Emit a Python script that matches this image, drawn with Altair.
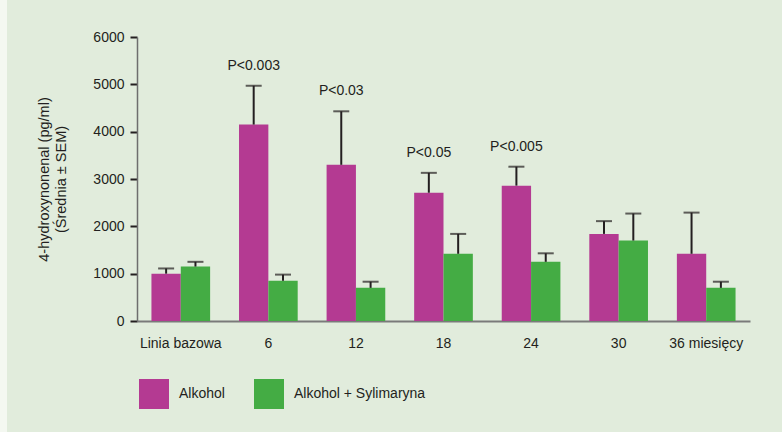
import altair as alt
import pandas as pd

# Time points (months of follow-up)
timepoints = ["Linia bazowa", "6", "12", "18", "24", "30", "36 miesięcy"]
groups = ["Alkohol", "Alkohol + Sylimaryna"]

# Mean 4-HNE (pg/ml) and SEM per group
alkohol_mean = [1000, 4150, 3300, 2710, 2860, 1840, 1420]
alkohol_sem = [110, 820, 1130, 420, 400, 270, 870]
sylimaryna_mean = [1150, 850, 700, 1420, 1250, 1700, 700]
sylimaryna_sem = [100, 130, 130, 420, 180, 570, 130]

# Significance labels (Alkohol vs. Alkohol + Sylimaryna)
p_labels = ["", "P<0.003", "P<0.03", "P<0.05", "P<0.005", "", ""]

rows = []
for i, t in enumerate(timepoints):
    rows.append({"czas": t, "grupa": groups[0], "srednia": alkohol_mean[i],
                 "sem": alkohol_sem[i], "p": p_labels[i]})
    rows.append({"czas": t, "grupa": groups[1], "srednia": sylimaryna_mean[i],
                 "sem": sylimaryna_sem[i], "p": ""})
df = pd.DataFrame(rows)
df["gora"] = df["srednia"] + df["sem"]

FONT = "Liberation Sans"
TEXT = "#231f20"
colors = ["#b43a92", "#44ac44"]

x = alt.X("czas:N", sort=timepoints, title=None,
          scale=alt.Scale(paddingInner=0.33, paddingOuter=0.165),
          axis=alt.Axis(labelAngle=0, ticks=False, labelPadding=15,
                        domainColor="#7a7a7a", domainWidth=2,
                        labelFontSize=14, labelColor=TEXT, labelFont=FONT))
xo = alt.XOffset("grupa:N", sort=groups,
                 scale=alt.Scale(paddingInner=0, paddingOuter=0))
y_scale = alt.Scale(domain=[0, 6000], nice=False)

bars = alt.Chart(df).mark_bar().encode(
    x=x,
    xOffset=xo,
    y=alt.Y("srednia:Q", scale=y_scale,
            title=["4-hydroxynonenal (pg/ml)", "(Średnia ± SEM)"],
            axis=alt.Axis(values=[0, 1000, 2000, 3000, 4000, 5000, 6000],
                          format="d",
                          grid=False, tickSize=7, tickWidth=2, tickColor=TEXT,
                          domainColor="#6e6e6e", domainWidth=1.5,
                          labelPadding=6, labelFontSize=14, labelColor=TEXT,
                          labelFont=FONT, titleFont=FONT, titleFontSize=14.5,
                          titleFontWeight="normal", titleColor=TEXT,
                          titlePadding=24, titleLineHeight=17)),
    color=alt.Color("grupa:N", sort=groups,
                    scale=alt.Scale(domain=groups, range=colors),
                    legend=alt.Legend(title=None, orient="none", direction="horizontal",
                                      legendX=2, legendY=342,
                                      symbolType="square", symbolSize=900,
                                      symbolStrokeWidth=0, symbolOpacity=1,
                                      labelFontSize=14, labelFont=FONT,
                                      labelColor=TEXT, labelOffset=10,
                                      columnPadding=29)),
)

whisker = alt.Chart(df).mark_rule(color=TEXT, strokeWidth=2).encode(
    x=x, xOffset=xo,
    y=alt.Y("srednia:Q", scale=y_scale),
    y2="gora:Q",
)

caps = alt.Chart(df).mark_tick(color=TEXT, thickness=2, size=16,
                               orient="horizontal").encode(
    x=x, xOffset=xo,
    y=alt.Y("gora:Q", scale=y_scale),
)

p_text = alt.Chart(df[df["p"] != ""]).mark_text(
    font=FONT, fontSize=14, color=TEXT, baseline="middle", dy=-20
).encode(
    x=x, xOffset=xo,
    y=alt.Y("gora:Q", scale=y_scale),
    text="p:N",
)

# Pale margin strip along the left edge of the panel
edge = alt.Chart(pd.DataFrame({"k": [0]})).mark_rect(color="#f4f8f1").encode(
    x=alt.value(-137), x2=alt.value(-130), y=alt.value(-37), y2=alt.value(395),
)

chart = alt.layer(edge, bars, whisker, caps, p_text).properties(
    width=613, height=284,
    autosize=alt.AutoSizeParams(type="none"),
    padding={"left": 137, "top": 37, "right": 32, "bottom": 111},
    background="#e1ecdc",
).configure_view(stroke=None)

chart.save("out.html", embed_options={"renderer": "svg", "actions": False})
